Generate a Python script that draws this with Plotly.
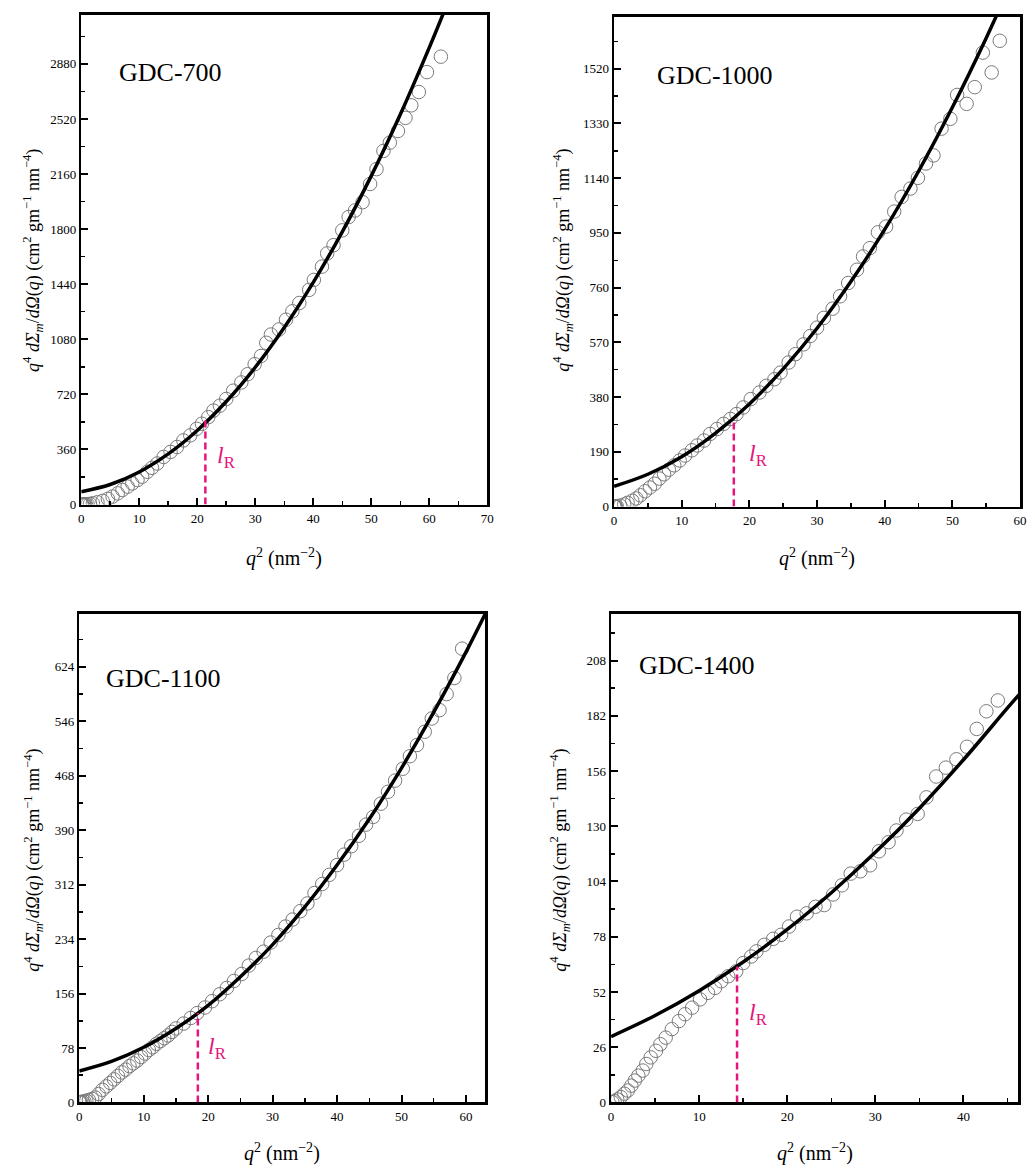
import plotly.graph_objects as go

W, H = 1035, 1172

# ---------------- data ----------------
labels = ["GDC-700", "GDC-1000", "GDC-1100", "GDC-1400"]

# GDC-700
q2_700 = [0.05, 0.15, 0.3, 0.45, 0.6, 0.8, 1.1, 1.5, 2.0, 2.8, 3.7, 4.6, 5.4, 6.3, 7.1, 8.0, 8.8, 9.7,
          10.5, 11.4, 12.2, 13.1, 14.2, 15.4, 16.5, 17.6, 18.8, 19.9, 20.8, 21.9, 22.8, 23.9,
          25.0, 26.2, 27.6, 28.7, 29.9, 31.0, 31.9, 32.7, 34.1, 35.3, 36.4, 37.6, 39.3, 40.1,
          41.5, 42.4, 43.5, 45.0, 46.1, 47.2, 48.5, 49.8, 50.9, 52.1, 53.2, 54.6, 55.9, 56.9,
          58.2, 59.6, 62.0]
y_700 = [0, 0, 0, 1, 1, 1, 2, 4, 8, 15, 24, 37, 52, 73, 95, 117, 138, 160,
         182, 214, 240, 268, 311, 344, 376, 419, 452, 495, 528, 571, 614, 646,
         690, 744, 798, 852, 917, 971, 1057, 1111, 1144, 1208, 1263, 1317, 1403, 1468,
         1555, 1641, 1695, 1792, 1879, 1922, 1976, 2095, 2192, 2311, 2365, 2441, 2527, 2609,
         2696, 2826, 2927]
fit_q2_700 = [0, 5, 10, 15, 20, 25, 30, 35, 40, 45, 50, 55, 60, 62.5]
fit_y_700 = [84, 131, 213, 331, 484, 673, 897, 1157, 1452, 1782, 2148, 2549, 2986, 3217]

# GDC-1000
q2_1000 = [0.05, 0.15, 0.25, 0.4, 0.9, 1.5, 2.0, 2.7, 3.3, 3.9, 4.6, 5.3, 6.0, 6.7, 7.4, 8.1, 8.9,
           9.7, 10.5, 11.5, 12.3, 13.3, 14.2, 15.2, 16.2, 17.2, 18.1, 19.1, 20.2, 21.5, 22.5,
           23.7, 24.6, 25.8, 26.8, 28.0, 29.0, 30.0, 31.0, 32.3, 33.4, 34.6, 35.9, 36.8, 37.8,
           39.0, 40.2, 41.4, 42.5, 43.8, 44.9, 46.1, 47.2, 48.4, 49.7, 50.7, 52.1, 53.3, 54.5,
           55.8, 57.0]
y_1000 = [0, 0, 0, 1, 3, 7, 13, 20, 28, 39, 53, 66, 79, 97, 112, 128, 143,
          160, 177, 195, 212, 229, 252, 269, 287, 304, 321, 344, 373, 396, 419,
          442, 465, 500, 529, 563, 592, 621, 655, 687, 730, 776, 822, 868, 897,
          952, 972, 1024, 1075, 1104, 1141, 1191, 1219, 1312, 1346, 1429, 1398, 1456, 1576,
          1507, 1617]
fit_q2_1000 = [0, 5, 10, 15, 20, 25, 30, 35, 40, 45, 50, 55, 58]
fit_y_1000 = [70, 112, 173, 255, 356, 478, 619, 781, 962, 1164, 1386, 1627, 1782]

# GDC-1100
q2_1100 = [0.05, 0.15, 0.3, 0.5, 0.8, 1.1, 1.5, 2.0, 2.5, 3.0, 3.6, 4.2, 4.8, 5.4, 6.0, 6.6,
           7.2, 7.8, 8.4, 9.0, 9.6, 10.2, 10.8, 11.4, 12.0, 12.6, 13.2, 13.8, 14.4, 15.0,
           16.2, 17.3, 18.3, 19.5, 20.6, 21.8, 22.9, 24.0, 25.2, 26.3, 27.4, 28.6, 29.7, 30.9,
           32.0, 33.1, 34.3, 35.4, 36.5, 37.7, 38.8, 40.0, 41.1, 42.2, 43.4, 44.5, 45.6, 46.8,
           47.9, 49.0, 50.2, 51.3, 52.4, 53.6, 54.7, 55.9, 57.0, 58.2, 59.4]
y_1100 = [0, 0, 0.5, 1, 1.5, 2.5, 3.5, 5, 7, 12, 18, 23, 28, 33, 38, 43,
          47, 52, 56, 60, 65, 70, 75, 79, 84, 88, 92, 96, 101, 106,
          113, 121, 128, 136, 145, 155, 164, 174, 184, 196, 207, 216, 229, 240,
          252, 262, 274, 285, 300, 313, 326, 340, 355, 367, 382, 398, 409, 428,
          445, 461, 478, 496, 512, 531, 550, 562, 585, 608, 650]
fit_q2_1100 = [0, 5, 10, 15, 20, 25, 30, 35, 40, 45, 50, 55, 60, 63]
fit_y_1100 = [45, 58.7, 79, 106, 139, 180, 226, 280, 340, 406, 479, 559, 645, 700]

# GDC-1400
q2_1400 = [0.15, 0.4, 0.7, 1.1, 1.5, 1.9, 2.3, 2.7, 3.1, 3.6, 4.0, 4.5, 5.1, 5.6, 6.2, 6.9,
           7.7, 8.4, 9.2, 10.1, 11.0, 11.8, 12.5, 13.3, 14.2, 15.0, 15.9, 16.5, 17.4, 18.4,
           19.3, 20.2, 21.1, 22.2, 23.2, 24.2, 25.2, 26.2, 27.2, 28.3, 29.4, 30.4, 31.5, 32.4,
           33.5, 34.8, 35.8, 36.9, 38.0, 39.2, 40.4, 41.5, 42.6, 43.9]
y_1400 = [0.1, 0.6, 1.4, 2.5, 4.1, 5.6, 7.9, 10.3, 12.6, 15.0, 18.1, 21.2, 24.3, 27.4, 30.5, 34.5,
          38.3, 41.5, 44.6, 48.5, 51.6, 53.9, 57.0, 59.4, 61.7, 65.6, 68.7, 71.1, 74.2, 77.0,
          78.9, 82.8, 87.4, 89.0, 92.1, 92.9, 97.9, 102.2, 107.7, 108.8, 111.6, 118.2, 122.5, 128.0,
          133.1, 135.8, 143.6, 153.4, 157.6, 161.5, 167.4, 175.8, 184.1, 189.2]
fit_q2_1400 = [0, 5, 10, 15, 20, 25, 30, 35, 40, 45, 46.5]
fit_y_1400 = [31, 40.9, 52.6, 66.1, 81.4, 98.7, 117.7, 138.5, 161.3, 185.7, 192.8]

# l_R positions
lR_q2 = [21.4, 17.7, 18.4, 14.3]
lR_y = [560, 305, 128, 64]

# axis settings
x_ranges = [[0, 70], [0, 60], [0, 63], [0, 46.2]]
y_ranges = [[0, 3200], [0, 1700], [0, 700], [0, 230]]
y_dticks = [360, 190, 78, 26]

# ---------------- layout geometry (pixels) ----------------
boxes = [  # left, right, top, bottom
    (79, 489, 15, 508),
    (617, 1027, 17, 510),
    (77, 487, 618, 1110),
    (614, 1025, 618, 1110),
]
label_pos = [(115, 73), (658, 76), (102, 683), (640, 670)]
lR_pos = [(226, 460), (763, 458), (217, 1055), (763, 1021)]
ytitle_pos = [(30, 262), (565, 262), (30, 866), (562, 866)]
xtitle_pos = [(284, 561), (822, 561), (282, 1160), (820, 1160)]

FONT = "Liberation Serif"
MAG = "#E5157C"

data = [
    (q2_700, y_700, fit_q2_700, fit_y_700),
    (q2_1000, y_1000, fit_q2_1000, fit_y_1000),
    (q2_1100, y_1100, fit_q2_1100, fit_y_1100),
    (q2_1400, y_1400, fit_q2_1400, fit_y_1400),
]

fig = go.Figure()
layout = dict(
    width=W, height=H, margin=dict(l=0, r=0, t=0, b=0),
    paper_bgcolor="white", plot_bgcolor="white", showlegend=False,
    font=dict(family=FONT, color="black"),
)
annotations = []

ytitle = ("<i>q</i><sup>4</sup> <i>d</i><i>Σ</i><sub><i>m</i></sub>/<i>d</i><i>Ω</i>(<i>q</i>)"
          " (cm<sup>2</sup> gm<sup>−1</sup> nm<sup>−4</sup>)")
xtitle = "<i>q</i><sup>2</sup> (nm<sup>−2</sup>)"

for i in range(4):
    n = "" if i == 0 else str(i + 1)
    xs, ys, fx, fy = data[i]
    l, r, t, b = boxes[i]
    xa = "x" + n
    ya = "y" + n
    fig.add_trace(go.Scatter(x=xs, y=ys, mode="markers", xaxis=xa, yaxis=ya,
                             marker=dict(symbol="circle-open", size=13.5,
                                         color="#7a7a7a", line=dict(width=1, color="#7a7a7a"))))
    fig.add_trace(go.Scatter(x=fx, y=fy, mode="lines", xaxis=xa, yaxis=ya,
                             line=dict(color="black", width=3.5, shape="spline")))
    fig.add_trace(go.Scatter(x=[lR_q2[i], lR_q2[i]], y=[0, lR_y[i]], mode="lines",
                             xaxis=xa, yaxis=ya,
                             line=dict(color=MAG, width=2.5, dash="7px,4px")))
    common = dict(showline=True, mirror=True, linecolor="black", linewidth=2.5,
                  ticks="inside", ticklen=7, tickwidth=2, tickcolor="black",
                  showgrid=False, zeroline=False,
                  tickfont=dict(family=FONT, size=13, color="black"))
    layout["xaxis" + n] = dict(domain=[l / W, r / W], range=x_ranges[i], anchor=ya,
                               tick0=0, dtick=10,
                               minor=dict(ticks="inside", ticklen=4, tickwidth=1.5,
                                          tickcolor="black", dtick=5, tick0=0),
                               **common)
    layout["yaxis" + n] = dict(domain=[1 - b / H, 1 - t / H], range=y_ranges[i], anchor=xa,
                               tick0=0, dtick=y_dticks[i],
                               minor=dict(ticks="inside", ticklen=4, tickwidth=1.5,
                                          tickcolor="black", dtick=y_dticks[i] / 2, tick0=0),
                               **common)
    lx, ly = label_pos[i]
    annotations.append(dict(x=lx / W, y=1 - ly / H, xref="paper", yref="paper",
                            text=labels[i], showarrow=False, xanchor="left", yanchor="middle",
                            font=dict(family=FONT, size=26, color="black")))
    rx, ry = lR_pos[i]
    annotations.append(dict(x=rx / W, y=1 - ry / H, xref="paper", yref="paper",
                            text="<i>l</i><sub>R</sub>", showarrow=False,
                            xanchor="center", yanchor="middle",
                            font=dict(family=FONT, size=24, color=MAG)))
    tx, ty = ytitle_pos[i]
    annotations.append(dict(x=tx / W, y=1 - ty / H, xref="paper", yref="paper",
                            text=ytitle, showarrow=False, textangle=-90,
                            xanchor="center", yanchor="middle",
                            font=dict(family=FONT, size=18, color="black")))
    tx, ty = xtitle_pos[i]
    annotations.append(dict(x=tx / W, y=1 - ty / H, xref="paper", yref="paper",
                            text=xtitle, showarrow=False,
                            xanchor="center", yanchor="middle",
                            font=dict(family=FONT, size=20, color="black")))

layout["annotations"] = annotations
fig.update_layout(**layout)
fig.write_html(
    "out.html",
    config={"displayModeBar": False, "staticPlot": True},
    post_script=("document.body.style.margin='0px';document.body.style.padding='0px';"
                 "document.documentElement.style.overflow='hidden';"),
)
